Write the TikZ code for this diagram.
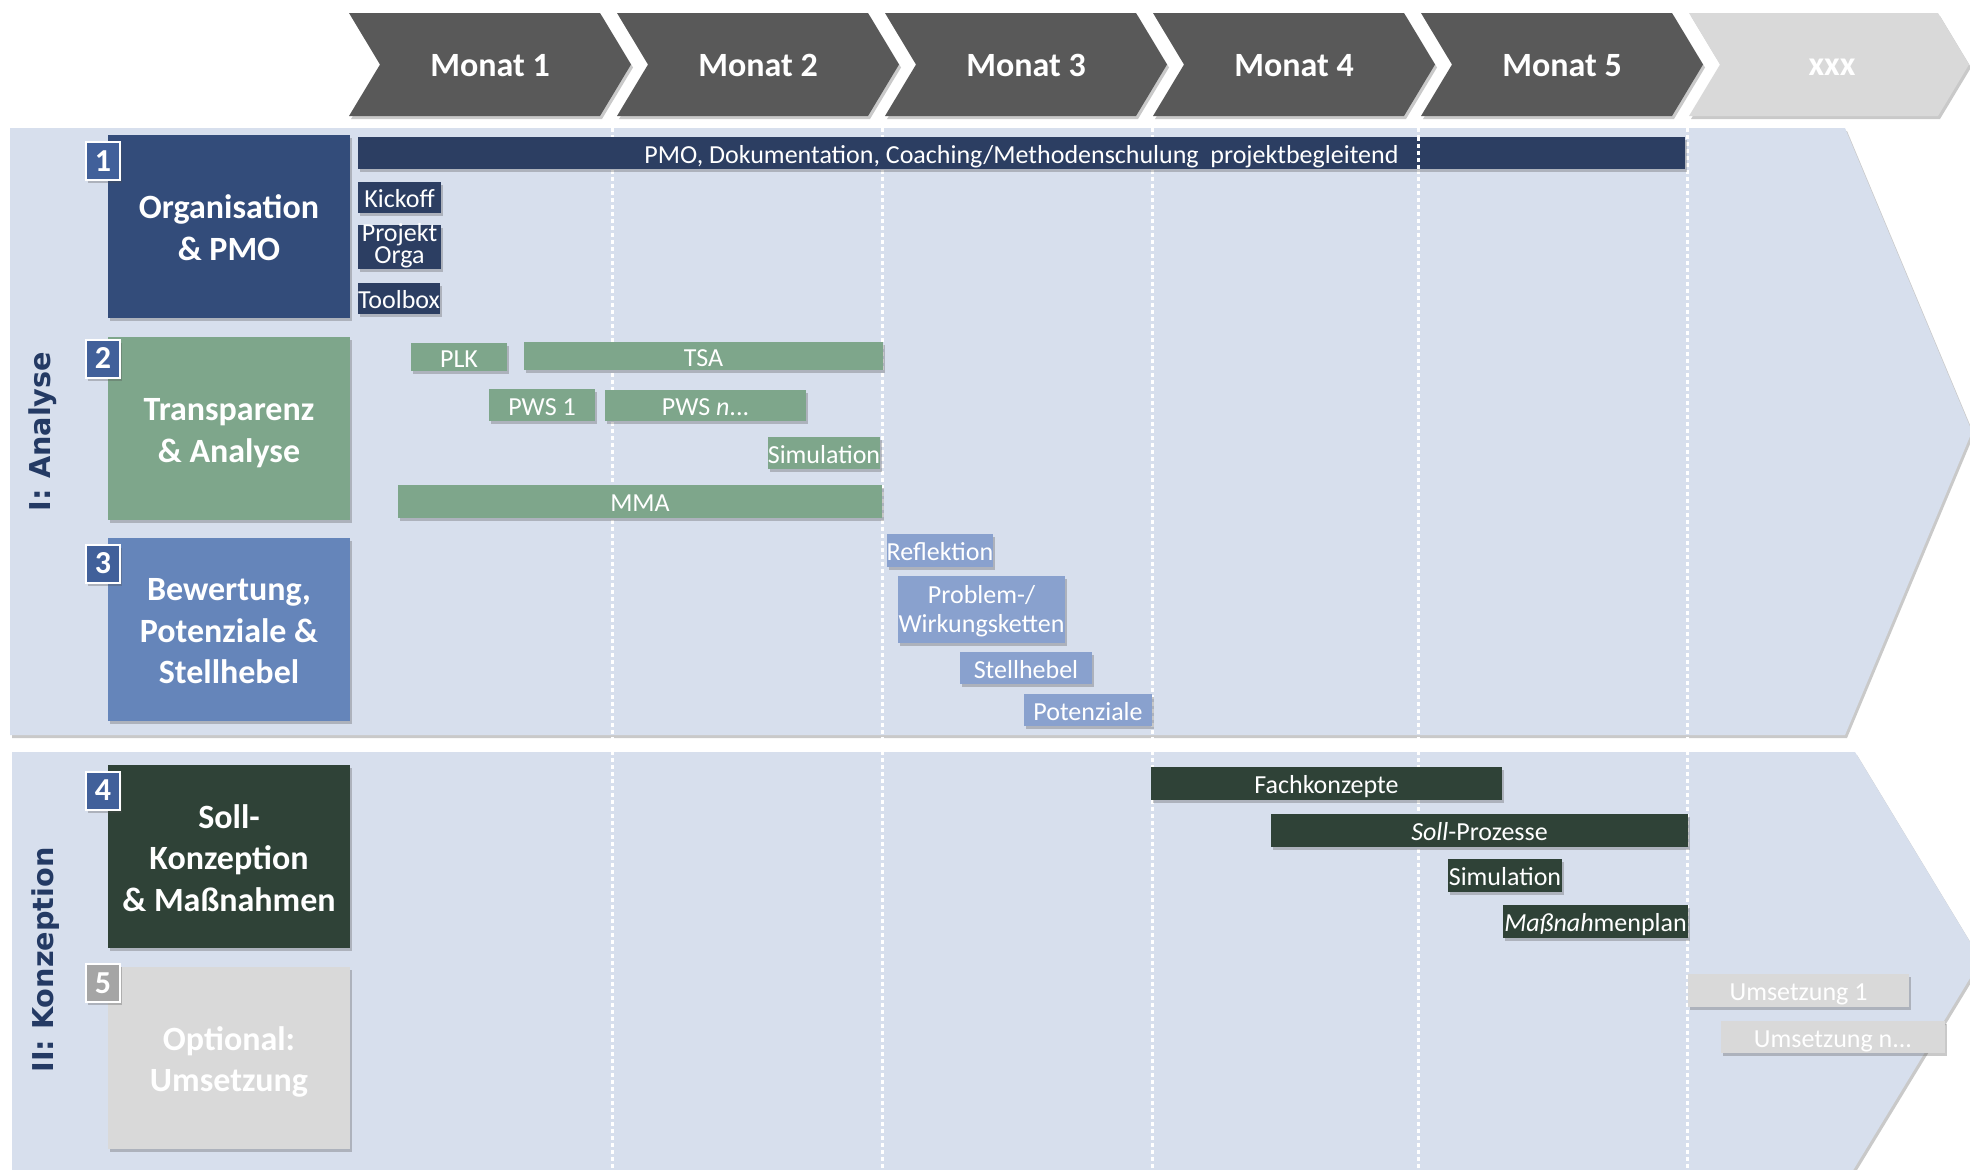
\documentclass[tikz,border=0pt]{standalone}
\usepackage{fontspec}
\setmainfont{Carlito}
\newfontfamily\lblfont{DejaVu Sans}
\usetikzlibrary{shadows}
\definecolor{chev}{HTML}{595959}
\definecolor{chevl}{HTML}{D9D9D9}
\definecolor{panel}{HTML}{D7DFED}
\definecolor{orgbox}{HTML}{334C7A}
\definecolor{orgtask}{HTML}{2C3E62}
\definecolor{grn}{HTML}{7EA68B}
\definecolor{blu}{HTML}{6585BA}
\definecolor{blut}{HTML}{89A1CE}
\definecolor{dkg}{HTML}{2F4237}
\definecolor{gry}{HTML}{D9D9D9}
\definecolor{badgeb}{HTML}{41609A}
\definecolor{badgeg}{HTML}{A5A5A5}
\definecolor{phase}{HTML}{243A64}
\tikzset{
 shd/.style={drop shadow={shadow xshift=1pt, shadow yshift=-1.5pt, opacity=0.3, fill=black!70}},
 task/.style={shd, inner sep=0pt, text=white, font=\fontsize{13}{13}\selectfont, text height=10pt, text depth=0pt},
 cat/.style={shd, inner sep=0pt},
 catline/.style={inner sep=0pt, anchor=base, text=white, font=\fontsize{17}{17}\selectfont\bfseries},
 tline/.style={inner sep=0pt, anchor=base, text=white, font=\fontsize{13}{13}\selectfont},
 badgebox/.style={shd, draw=white, line width=1pt, inner sep=0pt, text=white, font=\fontsize{16}{16}\selectfont\bfseries, text height=10.1pt, text depth=0pt, minimum width=17pt, minimum height=19pt},
 month/.style={inner sep=0pt, text=white, font=\fontsize{17}{17}\selectfont\bfseries, text height=10.75pt, text depth=0pt},
 phaselbl/.style={inner sep=0pt, rotate=90, text=phase, font=\lblfont\fontsize{14.35}{14.35}\selectfont\bfseries},
 gridline/.style={white, line width=1.5pt, dash pattern=on 2.2pt off 1.3pt},
}
\newcommand\mkbox[7]{%
  \pgfmathsetmacro\mkcx{(#2+#4)/2}%
  \pgfmathsetmacro\mkcy{(#3+#5)/2}%
  \pgfmathsetmacro\mkw{(#4-#2)*0.5}%
  \pgfmathsetmacro\mkh{(#5-#3)*0.5}%
  \node[#6, minimum width=\mkw pt, minimum height=\mkh pt] (#1) at (\mkcx,\mkcy) {#7};}
\begin{document}
\begin{tikzpicture}[x=0.5pt,y=-0.5pt]
\useasboundingbox (0,0) rectangle (1970,1169);
\clip (0,0) rectangle (1970,1169);
% header chevrons
\foreach \L/\lab/\nm in {349/Monat 1/m1, 617/Monat 2/m2, 885/Monat 3/m3, 1153/Monat 4/m4, 1421/Monat 5/m5}{
  \fill[chev, shd] (\L,13) -- ++(251,0) -- ++(31,51.5) -- ++(-31,51.5) -- ++(-251,0) -- ++(31,-51.5) -- cycle;
  \node[month] (\nm) at (\L+141,66) {\lab};
}
\fill[chevl, shd] (1689,13) -- ++(249,0) -- ++(31,51.5) -- ++(-31,51.5) -- ++(-249,0) -- ++(31,-51.5) -- cycle;
\node[month, text height=7.9pt] (m6) at (1832,68) {xxx};
% phase panels
\fill[panel, shd] (10,128) -- (1845,128) -- (1972,431.5) -- (1845,735) -- (10,735) -- cycle;
\fill[panel, shd] (12,752) -- (1855,752) -- (1981,960) -- (1852,1172) -- (12,1172) -- cycle;
% month grid
\foreach \x in {612,882,1152,1418,1687}{\draw[gridline] (\x,128) -- (\x,1169);}
% phase labels
\node[phaselbl] (ph1) at (43,431.5) {I: Analyse};
\node[phaselbl] (ph2) at (46,960) {II: Konzeption};
% category boxes
\mkbox{c1}{108}{135}{350}{318}{cat, fill=orgbox}{}
\mkbox{c2}{108}{337}{350}{520}{cat, fill=grn}{}
\mkbox{c3}{108}{538}{350}{721}{cat, fill=blu}{}
\mkbox{c4}{108}{765}{350}{948}{cat, fill=dkg}{}
\mkbox{c5}{108}{967}{350}{1149}{cat, fill=gry}{}
\node[catline] (c1a) at (229,218.75) {Organisation};
\node[catline] (c1b) at (229,260.25) {\& PMO};
\node[catline] (c2a) at (229,420.5) {Transparenz};
\node[catline] (c2b) at (229,462) {\& Analyse};
\node[catline] (c3a) at (229,600.5) {Bewertung,};
\node[catline] (c3b) at (229,642) {Potenziale \&};
\node[catline] (c3c) at (229,683.5) {Stellhebel};
\node[catline] (c4a) at (229,828) {Soll-};
\node[catline] (c4b) at (229,869.5) {Konzeption};
\node[catline] (c4c) at (229,911) {\& Maßnahmen};
\node[catline] (c5a) at (229,1050) {Optional:};
\node[catline] (c5b) at (229,1091.5) {Umsetzung};
% badges
\node[badgebox, fill=badgeb] (b1) at (103,161) {1};
\node[badgebox, fill=badgeb] (b2) at (103,358.5) {2};
\node[badgebox, fill=badgeb] (b3) at (103,563.5) {3};
\node[badgebox, fill=badgeb] (b4) at (103,790.5) {4};
\node[badgebox, fill=badgeg] (b5) at (103,983) {5};
% 1 Organisation
\mkbox{pmo}{358}{137}{1685}{169}{task, fill=orgtask}{PMO, Dokumentation, Coaching/Methodenschulung\ \ projektbegleitend}
\mkbox{kick}{358}{182}{441}{213}{task, fill=orgtask}{Kickoff}
\mkbox{porg}{358}{225}{441}{269}{task, fill=orgtask}{}
\node[tline] (porga) at (399.5,241.5) {Projekt};
\node[tline] (porgb) at (399.5,263.5) {Orga};
\mkbox{tool}{358}{283}{440}{314}{task, fill=orgtask}{Toolbox}
% 2 Transparenz
\mkbox{plk}{411}{343}{507}{371}{task, fill=grn}{PLK}
\mkbox{tsa}{524}{342}{883}{370}{task, fill=grn}{TSA}
\mkbox{pws1}{489}{389}{595}{421}{task, fill=grn}{PWS 1}
\mkbox{pwsn}{605}{390}{806}{421}{task, fill=grn}{PWS \textit{n}...}
\mkbox{sim1}{768}{437}{880}{469}{task, fill=grn}{Simulation}
\mkbox{mma}{398}{485}{882}{518}{task, fill=grn}{MMA}
% 3 Bewertung
\mkbox{refl}{887}{534}{993}{567}{task, fill=blut}{Reflektion}
\mkbox{prob}{898}{576}{1065}{643}{task, fill=blut}{}
\node[tline] (proba) at (981.5,603) {Problem-/};
\node[tline] (probb) at (981.5,632) {Wirkungsketten};
\mkbox{stell}{960}{652}{1092}{684}{task, fill=blut}{Stellhebel}
\mkbox{pot}{1024}{694}{1152}{726}{task, fill=blut}{Potenziale}
% 4 Soll-Konzeption
\mkbox{fach}{1151}{767}{1502}{800}{task, fill=dkg}{Fachkonzepte}
\mkbox{sollp}{1271}{814}{1688}{847}{task, fill=dkg}{\textit{Soll}-Prozesse}
\mkbox{sim2}{1448}{859}{1562}{892}{task, fill=dkg}{Simulation}
\mkbox{mplan}{1503}{905}{1688}{938}{task, fill=dkg}{\textit{Maßnah}menplan}
% 5 Umsetzung
\mkbox{ums1}{1688}{974}{1909}{1007}{task, fill=gry}{Umsetzung 1}
\mkbox{umsn}{1721}{1021}{1945}{1053}{task, fill=gry}{Umsetzung n...}
% grid line over the PMO bar
\draw[gridline] (pmo.north -| 1418,0) -- (pmo.south -| 1418,0);
\end{tikzpicture}
\end{document}
